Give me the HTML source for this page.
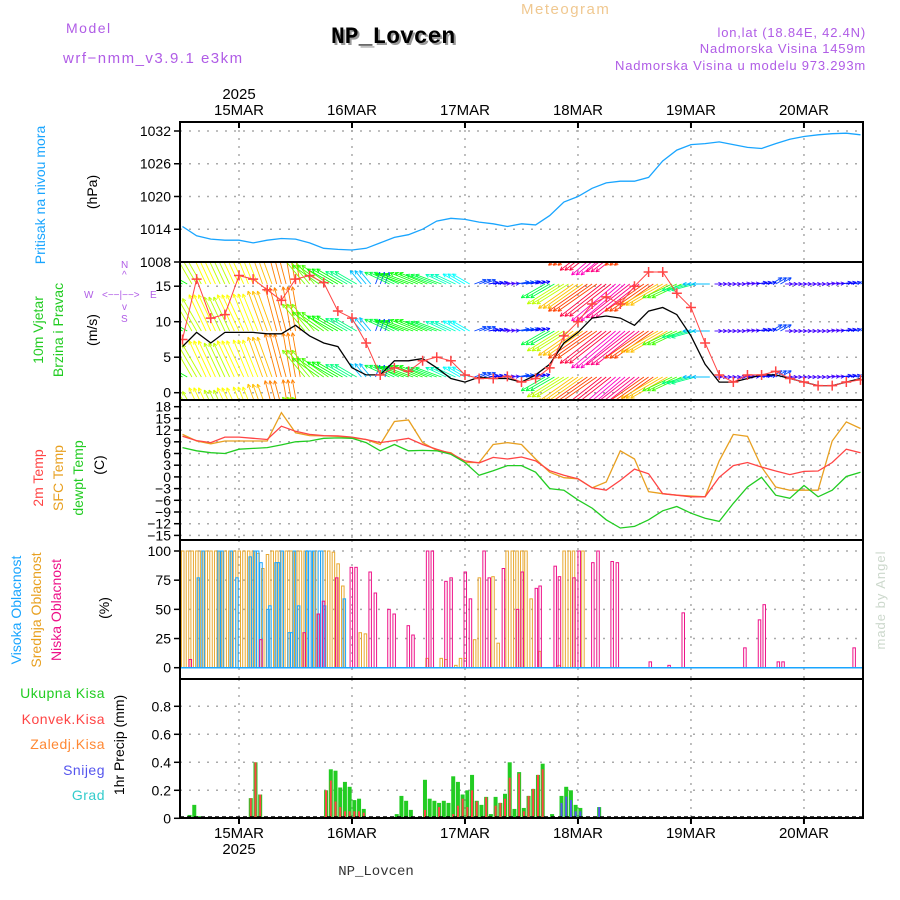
<!DOCTYPE html>
<html><head><meta charset="utf-8"><style>
html,body{margin:0;padding:0;background:#fff;}
svg{display:block;font-family:"Liberation Sans",sans-serif;}
</style></head><body>
<svg id="chart" width="900" height="900" viewBox="0 0 900 900" xmlns="http://www.w3.org/2000/svg">
<rect x="0" y="0" width="900" height="900" fill="#fff"/>
<text x="66" y="33" fill="#b05ce6" font-size="14" letter-spacing="1.5">Model</text>
<text x="63" y="63" fill="#b05ce6" font-size="15" letter-spacing="1.5">wrf−nmm_v3.9.1 e3km</text>
<text x="333" y="45" fill="#999" font-family="Liberation Mono,monospace" font-weight="bold" font-size="23">NP_Lovcen</text>
<text x="331" y="43" fill="#000" font-family="Liberation Mono,monospace" font-weight="bold" font-size="23">NP_Lovcen</text>
<text x="521" y="14" fill="#f0c890" font-size="15" letter-spacing="1.5">Meteogram</text>
<text x="866" y="37" text-anchor="end" fill="#b05ce6" font-size="13" letter-spacing="0.8">lon,lat (18.84E, 42.4N)</text>
<text x="866" y="53" text-anchor="end" fill="#b05ce6" font-size="13" letter-spacing="0.8">Nadmorska Visina 1459m</text>
<text x="866" y="70" text-anchor="end" fill="#b05ce6" font-size="13" letter-spacing="0.8">Nadmorska Visina u modelu 973.293m</text>
<text x="376" y="875" text-anchor="middle" fill="#333" font-family="Liberation Mono,monospace" font-size="14">NP_Lovcen</text>
<text transform="translate(885,600) rotate(-90)" text-anchor="middle" fill="#ccd8cc" font-size="13" letter-spacing="1">made by Angel</text>

<text transform="translate(45,195) rotate(-90)" text-anchor="middle" fill="#19a5ff" font-size="14">Pritisak na nivou mora</text>
<text transform="translate(97,192) rotate(-90)" text-anchor="middle" fill="#000" font-size="14">(hPa)</text>
<text transform="translate(43,330) rotate(-90)" text-anchor="middle" fill="#22cc22" font-size="14">10m Vjetar</text>
<text transform="translate(63,330) rotate(-90)" text-anchor="middle" fill="#22cc22" font-size="14">Brzina i Pravac</text>
<text transform="translate(97,330) rotate(-90)" text-anchor="middle" fill="#000" font-size="14">(m/s)</text>
<g fill="#b05ce6" font-size="10">
<text x="84" y="298">W</text><text x="150" y="298">E</text>
<text x="102" y="298">&lt;−−|−−&gt;</text>
<text x="121" y="268">N</text><text x="122" y="278">^</text>
<text x="122" y="310">v</text><text x="121" y="322">S</text>
</g>
<text transform="translate(43,478) rotate(-90)" text-anchor="middle" fill="#ff4444" font-size="14">2m Temp</text>
<text transform="translate(63,478) rotate(-90)" text-anchor="middle" fill="#e8a020" font-size="14">SFC Temp</text>
<text transform="translate(83,478) rotate(-90)" text-anchor="middle" fill="#22cc22" font-size="14">dewpt Temp</text>
<text transform="translate(104,465) rotate(-90)" text-anchor="middle" fill="#000" font-size="14">(C)</text>
<text transform="translate(21,610) rotate(-90)" text-anchor="middle" fill="#19a5ff" font-size="14">Visoka Oblacnost</text>
<text transform="translate(41,610) rotate(-90)" text-anchor="middle" fill="#e8a020" font-size="14">Srednja Oblacnost</text>
<text transform="translate(61,610) rotate(-90)" text-anchor="middle" fill="#ee1188" font-size="14">Niska Oblacnost</text>
<text transform="translate(109,608) rotate(-90)" text-anchor="middle" fill="#000" font-size="14">(%)</text>
<g font-size="14" text-anchor="end" letter-spacing="0.5">
<text x="105" y="698" fill="#22cc22">Ukupna Kisa</text>
<text x="105" y="724" fill="#ff4444">Konvek.Kisa</text>
<text x="105" y="749" fill="#ff8833">Zaledj.Kisa</text>
<text x="105" y="775" fill="#5555ee">Snijeg</text>
<text x="105" y="800" fill="#33cccc">Grad</text>
</g>
<text transform="translate(124,745) rotate(-90)" text-anchor="middle" fill="#000" font-size="14">1hr Precip (mm)</text>

<g id="plots"></g>
</svg>
<script>
const hours3 = [12,15,18,21,24,27,30,33,36,39,42,45,48,51,54,57,60,63,66,69,72,75,78,81,84,87,90,93,96,99,102,105,108,111,114,117,120,123,126,129,132,135,138,141,144,147,150,153,156];
const pressure = [1014.5,1012.8,1012.2,1012,1012,1011.5,1012,1012.3,1012.2,1011.5,1010.5,1010.3,1010.2,1010.5,1011.5,1012.5,1013,1014,1015.5,1016,1015.8,1015.3,1015,1014.5,1015,1014.8,1016.5,1019,1020,1021.5,1022.5,1022.8,1022.8,1023.5,1026.5,1028.5,1029.5,1029.7,1030,1029.5,1029,1028.8,1029.7,1030.5,1031,1031.3,1031.5,1031.6,1031.3];
const windSpeed = [6.5,8.5,7,8.5,8.5,8.5,8.3,8.3,9.5,8,7,6.5,3.5,2.5,2.5,4.5,4.5,4.8,3.5,2,1.5,2.2,2,2,1.5,2.5,4,7,8.5,10.5,10.8,10.5,9.5,11.5,12,11,8,4,1.5,1.5,2,2.5,2.5,2,1.5,1,1,1.5,2];
const windGust = [7.5,16,10.5,11,16.5,16,14.5,13,16,16.5,15.5,11.5,10.5,7,2.5,3.5,3,4.5,5,4.5,2.5,2,2,2.3,1.5,2,3.5,8,10,12.5,13.5,12.5,15,17,17,14,12,7,2.5,1.5,2.5,2.5,3,2,1.5,1,1,1.5,1.8];
const windDir = [300,330,335,335,335,338,340,345,350,320,305,300,300,320,20,295,290,292,290,295,300,70,80,85,80,75,240,238,235,235,232,230,232,235,240,245,255,270,90,90,85,80,60,90,90,90,85,80,70];
const windArrowSpd = [12,15,16,15,16,16,17,18,18,14,13,12,10,7,5,11,12,12,11,9,8,5,4,3,5,4,11,15,17,19,21,23,22,19,17,13,10,7,3,3,3,4,5,3,3,3,3,4,5];
const temp2m = [10.4,9.3,8.8,10.2,10.2,9.9,9.6,13.0,11.7,10.9,10.6,10.5,10.2,9.6,8.8,9.3,9.9,8.3,7.1,6.0,4.1,3.6,5.0,4.6,5.1,4.1,1.6,0.4,-0.5,-2.8,-3.4,-0.9,2.0,0.8,-4.3,-4.7,-5.1,-5.1,-0.1,2.9,3.7,2.5,1.5,0.6,1.4,1.5,3.7,7.1,6.2];
const tempSfc = [10.9,9.2,8.5,9.2,9.2,9.2,9.2,16.5,11.3,10.6,10.5,10.4,10.0,9.6,8.3,14.2,14.6,8.8,6.8,6.2,3.7,3.7,8.3,8.8,8.3,4.6,1.2,-0.2,-0.5,-2.8,-1.3,6.7,4.6,-3.8,-4.3,-4.7,-4.9,-5.1,4.1,10.9,10.4,2.5,-2.6,-3.4,-3.4,-3.4,9.2,14.1,12.4];
const tempDew = [7.5,6.7,6.2,6.0,7.1,7.3,7.5,8.2,9.0,9.2,9.9,10.0,9.9,8.8,6.7,8.3,6.7,6.8,6.7,5.8,3.7,0.4,1.6,2.9,2.9,1.2,-3.0,-3.4,-5.9,-8.0,-11.0,-13.1,-12.7,-11.0,-8.7,-7.6,-9.3,-10.6,-11.4,-6.8,-2.6,-0.1,-4.7,-5.5,-2.2,-5.1,-3.4,0.1,1.2];

const midHours = [12,13,14,15,16,17,18,19,20,21,22,23,24,25,26,27,28,29,30,31,32,33,34,35,36,37,38,39,40,41,42,43,44,45,46,49.7,50.8,63.9,66.9,67.9,70,71,72,74,75,77.9,79,80.9,82,83,84,84.9,86,87.8,91.9,93,94.1,95,97];
const midVals =  [100,100,100,100,100,100,100,100,100,100,100,100,100,100,100,100,98,85,97,100,100,100,100,100,100,100,100,100,100,100,100,100,99,89,70,30,29,8,8,7,2,8,8,24,77,78,21,100,100,100,100,100,59,14,2,100,100,100,100];
const highHours = [15,16,19.4,20,22,23.2,26,27,27.6,28.3,29.8,30.2,31.5,32,32.8,34.3,34.8,35.4,36.3,38,38.7,39.5,40.7,41.2,41.8,46];
const highVals =  [77,100,100,100,100,77,95,100,100,90,50,53,90,90,100,30,30,100,53,100,100,100,100,100,53,59];
const lowHours = [13.5,28.5,37.7,40.7,41.8,44.6,47.7,48.7,51.7,52.8,55.7,56.8,59.8,60.8,63.9,64.9,67.8,68.9,71.9,73,75.9,77,80,83,84,87,87.8,91,91.9,95,96.1,99,100.1,103.1,104.2,111.2,115.2,118.2,131.3,134.4,135.4,138.4,139.4,154.5];
const lowVals =  [7,24,30,46,57,77,86,86,82,64,50,46,36,28,100,100,74,77,82,59,100,77,85,50,82,68,70,87,78,77,100,90,100,91,90,5,2,47,17,41,54,5,5,17];

const precipHours = [13.5,14.5,15.5,26.5,27.5,28.5,29.5,42.5,43.5,44.5,45.5,46.5,47.5,48.5,49.5,50.5,51.5,57.5,58.5,59.5,60.5,61.5,62.5,63.5,64.5,65.5,66.5,67.5,68.5,69.5,70.5,71.5,72.5,73.5,74.5,75.5,76.5,77.5,78.5,79.5,80.5,81.5,82.5,83.5,84.5,85.5,86.5,87.5,88.5,89.5,90.5,92.5,93.5,94.5,95.5,96.5,97.5,100.5];
const precipTotal = [0.024,0.096,0.015,0.144,0.40,0.17,0.01,0.20,0.35,0.34,0.22,0.26,0.225,0.13,0.14,0.067,0.01,0.03,0.16,0.125,0.06,0.01,0.01,0.275,0.14,0.125,0.11,0.125,0.11,0.30,0.26,0.17,0.20,0.31,0.125,0.096,0.153,0.03,0.153,0.11,0.175,0.40,0.067,0.33,0.074,0.16,0.21,0.31,0.39,0.01,0.03,0.16,0.225,0.20,0.096,0.074,0.01,0.08];
const precipConv = [0,0,0,0.144,0.40,0.17,0,0.20,0.27,0.12,0.08,0.05,0.05,0.05,0.05,0.04,0,0,0,0,0,0,0,0.06,0,0,0.08,0,0,0.03,0.09,0.14,0.08,0.2,0.12,0,0.15,0,0.09,0.11,0.14,0.29,0,0.32,0.05,0.16,0.21,0.31,0.35,0,0.01,0,0,0,0,0,0,0];
const precipSnow = [0,0,0,0,0,0,0,0,0,0,0,0,0,0,0,0,0,0,0,0,0,0,0,0,0,0,0,0,0,0,0,0,0,0,0,0,0,0,0,0,0,0,0,0,0,0,0,0,0,0,0,0.11,0.155,0.13,0.05,0.05,0,0.08];

const dayLabels = ['15MAR','16MAR','17MAR','18MAR','19MAR','20MAR'];
const dayHours = [24,48,72,96,120,144];
const pressTicks = [1008,1014,1020,1026,1032];
const windTicks = [0,5,10,15];
const tempTicks = [18,15,12,9,6,3,0,-3,-6,-9,-12,-15];
const cloudTicks = [0,25,50,75,100];
const precipTicks = [0,0.2,0.4,0.6,0.8];

const X0=180, X1=863;
const xS = h => 239 + (h-24)*4.708;
const yP = p => 131 + (1032-p)*5.458;
const yW = v => 392.7 - v*7.1;
const yT = t => 406.7 + (18-t)*3.9;
const yC = c => 667.7 - c*1.167;
const yR = r => 818.3 - r*140;
const panels = [[122,262,'pressure'],[262,400,'wind'],[400,540,'temperature'],[540,679,'cloud'],[679,818,'precip']];

const NS='http://www.w3.org/2000/svg';
const root=document.getElementById('plots');
function mk(tag, attrs, parent){const e=document.createElementNS(NS,tag);for(const k in attrs)e.setAttribute(k,attrs[k]);(parent||root).appendChild(e);return e;}
function txt(s,attrs,parent){const e=mk('text',attrs,parent);e.textContent=s;return e;}

const defs=mk('defs',{});
panels.forEach((p,i)=>{const c=mk('clipPath',{id:'clip'+i},defs);mk('rect',{x:X0,y:p[0],width:X1-X0,height:p[1]-p[0]},c);});

function panelAxes(i, ticks, yf, fmt){
  const p=panels[i];
  const g=mk('g',{});
  
  
  ticks.forEach(t=>{
    const y=yf(t);
    const l=mk('line',{x1:X0,x2:X1,y1:y,y2:y,stroke:'#aaa','stroke-width':1.5,'stroke-dasharray':'2,7'},g);
    
    
    mk('line',{x1:X0-6,x2:X0,y1:y,y2:y,stroke:'#000','stroke-width':1.5},g);
    const tl=txt(fmt(t),{x:X0-9,y:y+5,'text-anchor':'end','font-size':14,fill:'#000'},g);
    
    
  });
  dayHours.forEach(h=>{
    const x=xS(h);
    mk('line',{x1:x,x2:x,y1:p[0],y2:p[1],stroke:'#aaa','stroke-width':1.5,'stroke-dasharray':'2,6'},g);
  });
}
panelAxes(0,pressTicks,yP,t=>String(t));
panelAxes(1,windTicks,yW,t=>String(t));
panelAxes(2,tempTicks,yT,t=>(t<0?'−'+(-t):String(t)));
panelAxes(3,cloudTicks,yC,t=>String(t));
panelAxes(4,precipTicks,yR,t=>(t===0?'0':t.toFixed(1)));

dayHours.forEach((h,i)=>{
  const x=xS(h);
  const a=txt(dayLabels[i],{x:x,y:115,'text-anchor':'middle','font-size':15,fill:'#000'});
  
  
  const b=txt(dayLabels[i],{x:x,y:838,'text-anchor':'middle','font-size':15,fill:'#000'});
  
  
  mk('line',{x1:x,x2:x,y1:122,y2:128,stroke:'#000','stroke-width':2});
  mk('line',{x1:x,x2:x,y1:818,y2:824,stroke:'#000','stroke-width':2});
});
const y1=txt('2025',{x:xS(24),y:99,'text-anchor':'middle','font-size':15,fill:'#000'});


const y2=txt('2025',{x:xS(24),y:854,'text-anchor':'middle','font-size':15,fill:'#000'});



function poly(xs, ys, color, name, clip, w){
  const pts=xs.map((h,i)=>xS(h).toFixed(1)+','+ys[i].toFixed(1)).join(' ');
  const e=mk('polyline',{points:pts,fill:'none',stroke:color,'stroke-width':w||1.3,'clip-path':'url(#'+clip+')'});
  
  
  return e;
}

poly(hours3, pressure.map(yP), '#19a5ff', 'pressure-line', 'clip0');

function arrowColor(s){let hue=(300-15*s)%360; if(hue<0)hue+=360; return 'hsl('+hue+',100%,50%)';}
const rows=[238,284,331,377,424];
const wg=mk('g',{'clip-path':'url(#clip1)'});


for(let h=12; h<=156; h+=1){
  const idx=Math.min(hours3.length-1, Math.round((h-12)/3));
  const d=windDir[idx]*Math.PI/180, L=windArrowSpd[idx]*2.5, col=arrowColor(windArrowSpd[idx]);
  rows.forEach(yb=>{
    const x=xS(h), xe=x+L*Math.sin(d), ye=yb-L*Math.cos(d);
    const a=mk('g',{stroke:col,'stroke-width':0.9},wg);
    
    
    mk('line',{x1:x,y1:yb,x2:xe,y2:ye},a);
    const back=d+Math.PI;
    [0.45,-0.45].forEach(o=>{mk('line',{x1:xe,y1:ye,x2:xe+4*Math.sin(back+o),y2:ye-4*Math.cos(back+o)},a);});
  });
}
poly(hours3, windSpeed.map(yW), '#000', 'wind-speed-line', 'clip1');
poly(hours3, windGust.map(yW), '#ff4444', 'wind-gust-line', 'clip1', 1);
const gg=mk('g',{stroke:'#ff4444','stroke-width':1.5,'clip-path':'url(#clip1)'});


hours3.forEach((h,i)=>{const x=xS(h),y=yW(windGust[i]);mk('path',{d:`M${x-5},${y}h10M${x},${y-5}v10`},gg);});

poly(hours3, tempSfc.map(yT), '#e8a020', 'sfc-temp-line', 'clip2');
poly(hours3, temp2m.map(yT), '#ff4444', 'temp-2m-line', 'clip2');
poly(hours3, tempDew.map(yT), '#22cc22', 'dewpoint-line', 'clip2');

function cloudBars(hs, vs, color, off, name){
  const g=mk('g',{'clip-path':'url(#clip3)'});
  
  
  hs.forEach((h,i)=>{
    const x=xS(h)+off, y=yC(vs[i]);
    const r=mk('rect',{x:x-1,y:y,width:2.5,height:Math.max(0.5,yC(0)-y),fill:'none',stroke:color,'stroke-width':1},g);
    
    
  });
}
cloudBars(midHours, midVals, '#e8a830', 0, 'mid-cloud-bars');
cloudBars(highHours, highVals, '#19a5ff', 1.5, 'high-cloud-bars');
cloudBars(lowHours, lowVals, '#ee1188', 0.5, 'low-cloud-bars');
mk('line',{x1:X0,x2:X1,y1:yC(0),y2:yC(0),stroke:'#19a5ff','stroke-width':1.5});

const pg=mk('g',{'clip-path':'url(#clip4)'});


precipHours.forEach((h,i)=>{
  const x=xS(h);
  const t=mk('rect',{x:x-2,y:yR(precipTotal[i]),width:4,height:yR(0)-yR(precipTotal[i]),fill:'#22cc22'},pg);
  
  
  if(precipConv[i]>0){
    const c=mk('rect',{x:x-1,y:yR(precipConv[i]),width:2,height:yR(0)-yR(precipConv[i]),fill:'#ff4444'},pg);
    
    
  }
  if(precipSnow[i]>0){
    const s=mk('rect',{x:x-1,y:yR(precipSnow[i]),width:2,height:yR(0)-yR(precipSnow[i]),fill:'#5555ee'},pg);
    
    
  }
});
mk('line',{x1:X0,x2:X1,y1:817,y2:817,stroke:'#000','stroke-width':1.5,'stroke-dasharray':'4,3'});

panels.forEach(p=>{
  const r=mk('rect',{x:X0,y:p[0],width:X1-X0,height:p[1]-p[0],fill:'none',stroke:'#000','stroke-width':2});
  
  
});
</script>
</body></html>
